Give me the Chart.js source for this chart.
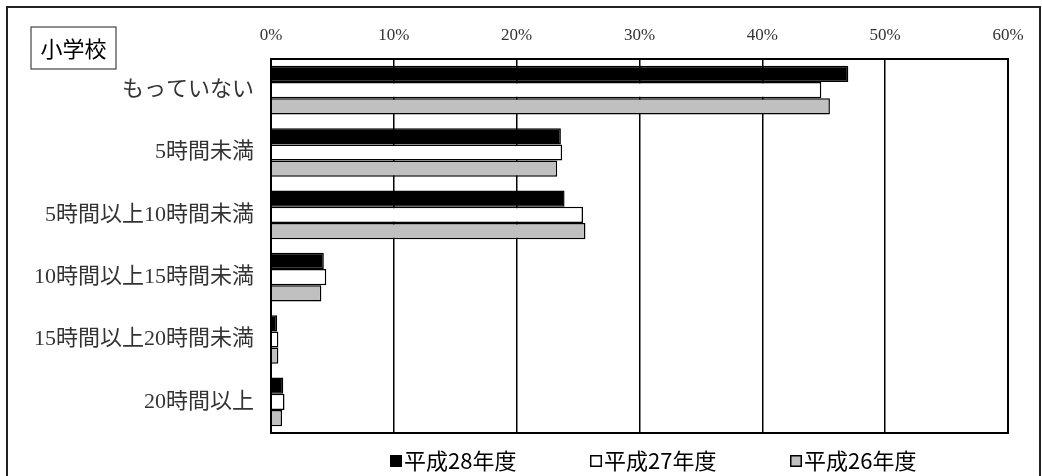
<!DOCTYPE html>
<html>
<head>
<meta charset="utf-8">
<script src="https://cdn.jsdelivr.net/npm/chart.js@4"></script>
<style>
  body { margin: 0; background: #fff; }
  #wrap { width: 1042px; height: 476px; }
</style>
</head>
<body>
<div id="wrap"><canvas id="graf"></canvas></div>
<script>
// datos (%)
const categorias = ['もっていない', '5時間未満', '5時間以上10時間未満', '10時間以上15時間未満', '15時間以上20時間未満', '20時間以上'];
const h28 = [47.0, 23.6, 23.9, 4.3, 0.5, 1.0];
const h27 = [44.8, 23.7, 25.4, 4.5, 0.6, 1.1];
const h26 = [45.5, 23.3, 25.6, 4.1, 0.6, 0.9];
const ticksX = [0, 10, 20, 30, 40, 50, 60];
const titulo = '小学校';

const serif = '"Liberation Serif", "Noto Sans CJK JP", serif';
const gothic = '"Noto Sans CJK JP", sans-serif';

// marco exterior, caja del título, borde del área y leyenda inferior
const marco = {
    id: 'marco',
    afterDraw(chart) {
        const c = chart.ctx;
        const a = chart.chartArea;
        c.save();
        c.strokeStyle = '#000';
        c.lineWidth = 2;
        c.strokeRect(a.left, a.top, a.right - a.left, a.bottom - a.top);

        c.strokeStyle = '#222';
        c.strokeRect(7, 7, 1033, 490);

        c.lineWidth = 1.2;
        c.strokeStyle = '#444';
        c.strokeRect(31, 27, 85, 42);
        c.fillStyle = '#000';
        c.font = '22px ' + gothic;
        c.textAlign = 'center';
        c.textBaseline = 'middle';
        c.fillText(titulo, 73.5, 48.5);

        // leyenda
        c.textAlign = 'left';
        chart.data.datasets.forEach((ds, i) => {
            const x = 390 + i * 200;
            const y = 461;
            c.fillStyle = ds.backgroundColor;
            c.fillRect(x, y - 6, 12, 12);
            c.lineWidth = 1.5;
            c.strokeStyle = '#000';
            c.strokeRect(x + 0.75, y - 5.25, 10.5, 10.5);
            c.fillStyle = '#000';
            c.font = '22px ' + gothic;
            c.fillText(ds.label, x + 14, y);
        });
        c.restore();
    }
};

const ctx = document.getElementById('graf').getContext('2d');
new Chart(ctx, {
    type: 'bar',
    data: {
        labels: categorias,
        datasets: [
            { label: '平成28年度', data: h28, backgroundColor: '#000', borderColor: '#000', borderWidth: 1.5 },
            { label: '平成27年度', data: h27, backgroundColor: '#fff', borderColor: '#000', borderWidth: 1.5 },
            { label: '平成26年度', data: h26, backgroundColor: '#c0c0c0', borderColor: '#000', borderWidth: 1.5 }
        ]
    },
    options: {
        indexAxis: 'y',
        responsive: true,
        maintainAspectRatio: false,
        animation: false,
        layout: { padding: { top: 0, right: 34, bottom: 43, left: 0 } },
        datasets: { bar: { categoryPercentage: 0.78, barPercentage: 1.0 } },
        scales: {
            x: {
                position: 'top',
                min: 0, max: 60,
                afterBuildTicks: s => { s.ticks = ticksX.map(v => ({ value: v })); },
                afterFit: s => { s.height = 59; },
                grid: { color: '#000', lineWidth: 1.5, drawTicks: false },
                border: { color: '#000', width: 2 },
                ticks: {
                    padding: 13,
                    color: '#333',
                    font: { family: serif, size: 17 },
                    callback: v => v + '%'
                }
            },
            y: {
                afterFit: s => { s.width = 271; },
                grid: { display: false },
                border: { color: '#000', width: 2 },
                ticks: {
                    padding: 9,
                    color: '#333',
                    font: { family: serif, size: 22 }
                }
            }
        },
        plugins: {
            legend: { display: false },
            tooltip: { enabled: false }
        }
    },
    plugins: [marco]
});
</script>
</body>
</html>
